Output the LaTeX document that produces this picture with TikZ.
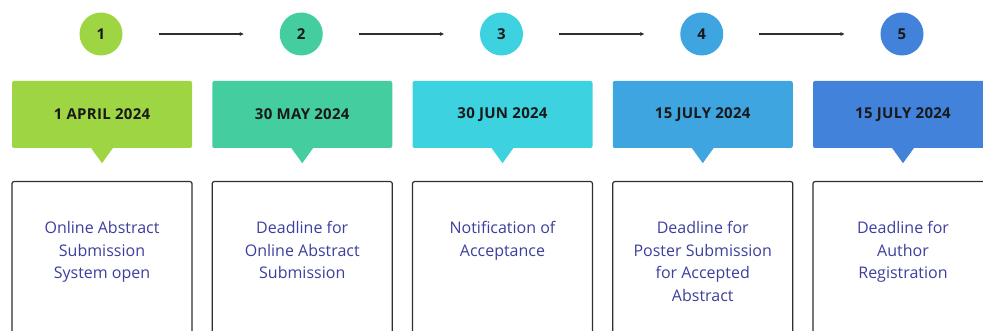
\documentclass[tikz,border=0pt]{standalone}
\usepackage{fontspec}
\setmainfont{Open Sans}
\usetikzlibrary{arrows.meta}
\definecolor{cA}{HTML}{9ED542}
\definecolor{cB}{HTML}{44CEA0}
\definecolor{cC}{HTML}{3CD2E0}
\definecolor{cD}{HTML}{3EA5E0}
\definecolor{cE}{HTML}{4282DB}
\definecolor{txtblue}{HTML}{3C3F9D}
\definecolor{darkline}{HTML}{2E2E2E}
\begin{document}
\begin{tikzpicture}[x=1pt,y=-1pt,
  numcircle/.style={circle,minimum size=43pt,inner sep=0pt,font=\fontsize{15}{17}\selectfont\bfseries,text=black!90},
  datebox/.style={rectangle,rounded corners=2pt,minimum width=180pt,minimum height=67pt,inner sep=0pt,font=\fontsize{15}{17}\selectfont\bfseries\addfontfeatures{LetterSpace=2},text=black!90},
  textbox/.style={rectangle,draw=darkline,line width=1.2pt,rounded corners=2pt,minimum width=180pt,minimum height=170pt,inner sep=0pt,anchor=north},
  desc/.style={align=center,anchor=north,inner sep=0pt,text=txtblue,font=\fontsize{16}{22.7}\selectfont},
  arr/.style={-{Stealth[length=4pt,width=4pt]},line width=1.2pt,draw=darkline,shorten <=36pt,shorten >=36pt}]
\useasboundingbox (0,0) rectangle (983,331);
\clip (0,0) rectangle (983,331);
\foreach \i/\x/\col/\date/\txt in {
  1/102/cA/{1 APRIL 2024}/{Online Abstract\\Submission\\System open},
  2/302.25/cB/{30 MAY 2024}/{Deadline for\\Online Abstract\\Submission},
  3/502.5/cC/{30 JUN 2024}/{Notification of\\Acceptance},
  4/702.75/cD/{15 JULY 2024}/{Deadline for\\Poster Submission\\for Accepted\\Abstract},
  5/903/cE/{15 JULY 2024}/{Deadline for\\Author\\Registration}}{
  \node[numcircle,fill=\col] (c\i) at (\x-1,34) {\i};
  \node[datebox,fill=\col] (d\i) at (\x,114.5) {\date};
  \fill[\col] ([xshift=-11.5pt,yshift=1pt]d\i.south) -- ([xshift=11.5pt,yshift=1pt]d\i.south) -- ([yshift=-15pt]d\i.south) -- cycle;
  \node[textbox] (b\i) at (\x,181) {};
  \node[desc] (t\i) at ([yshift=-40pt]b\i.north) {\txt};
}
\foreach \a/\b in {1/2,2/3,3/4,4/5}{
  \draw[arr] (c\a) -- (c\b);
}
\end{tikzpicture}
\end{document}
